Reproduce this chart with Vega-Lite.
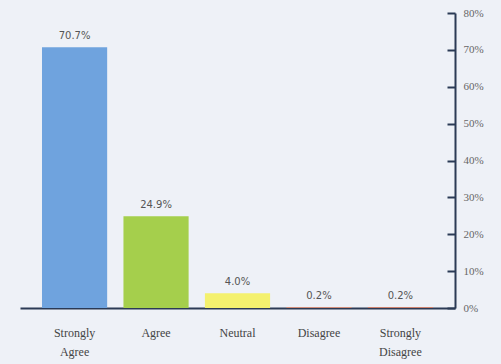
{
  "$schema": "https://vega.github.io/schema/vega-lite/v6.json",
  "width": 435,
  "height": 295,
  "autosize": {"type": "none"},
  "padding": {"left": 20, "top": 13, "right": 46, "bottom": 56},
  "background": "#EEF1F7",
  "config": {"view": {"stroke": null}},
  "data": {
    "values": [
      {"response": "Strongly Agree", "pct": 70.7, "label": "70.7%"},
      {"response": "Agree", "pct": 24.9, "label": "24.9%"},
      {"response": "Neutral", "pct": 4.0, "label": "4.0%"},
      {"response": "Disagree", "pct": 0.2, "label": "0.2%"},
      {"response": "Strongly Disagree", "pct": 0.2, "label": "0.2%"}
    ]
  },
  "encoding": {
    "x": {
      "field": "response",
      "type": "nominal",
      "sort": null,
      "scale": {"paddingInner": 0.2, "paddingOuter": 0.27},
      "axis": {
        "title": null,
        "labelAngle": 0,
        "labelExpr": "split(datum.label, ' ')",
        "labelFont": "Liberation Serif",
        "labelFontSize": 12,
        "labelColor": "#444",
        "labelLineHeight": 19,
        "labelPadding": 19,
        "ticks": false,
        "domainColor": "#2B3A55",
        "domainWidth": 2
      }
    },
    "y": {
      "field": "pct",
      "type": "quantitative",
      "scale": {"domain": [0, 80]},
      "axis": {
        "orient": "right",
        "title": null,
        "values": [0, 10, 20, 30, 40, 50, 60, 70, 80],
        "labelExpr": "datum.value + '%'",
        "labelFont": "Liberation Serif",
        "labelFontSize": 11,
        "labelColor": "#666",
        "grid": false,
        "domainColor": "#2B3A55",
        "domainWidth": 2,
        "tickColor": "#2B3A55",
        "tickWidth": 2,
        "tickSize": -8,
        "labelPadding": 16
      }
    }
  },
  "layer": [
    {
      "mark": {"type": "bar"},
      "encoding": {
        "color": {
          "field": "response",
          "type": "nominal",
          "sort": null,
          "scale": {
            "domain": ["Strongly Agree", "Agree", "Neutral", "Disagree", "Strongly Disagree"],
            "range": ["#6FA3DE", "#A5CF4C", "#F4F16E", "#E88B6C", "#E27B5C"]
          },
          "legend": null
        }
      }
    },
    {
      "mark": {"type": "text", "dy": -11, "font": "DejaVu Sans", "fontSize": 10, "color": "#555"},
      "encoding": {"text": {"field": "label"}}
    }
  ]
}
